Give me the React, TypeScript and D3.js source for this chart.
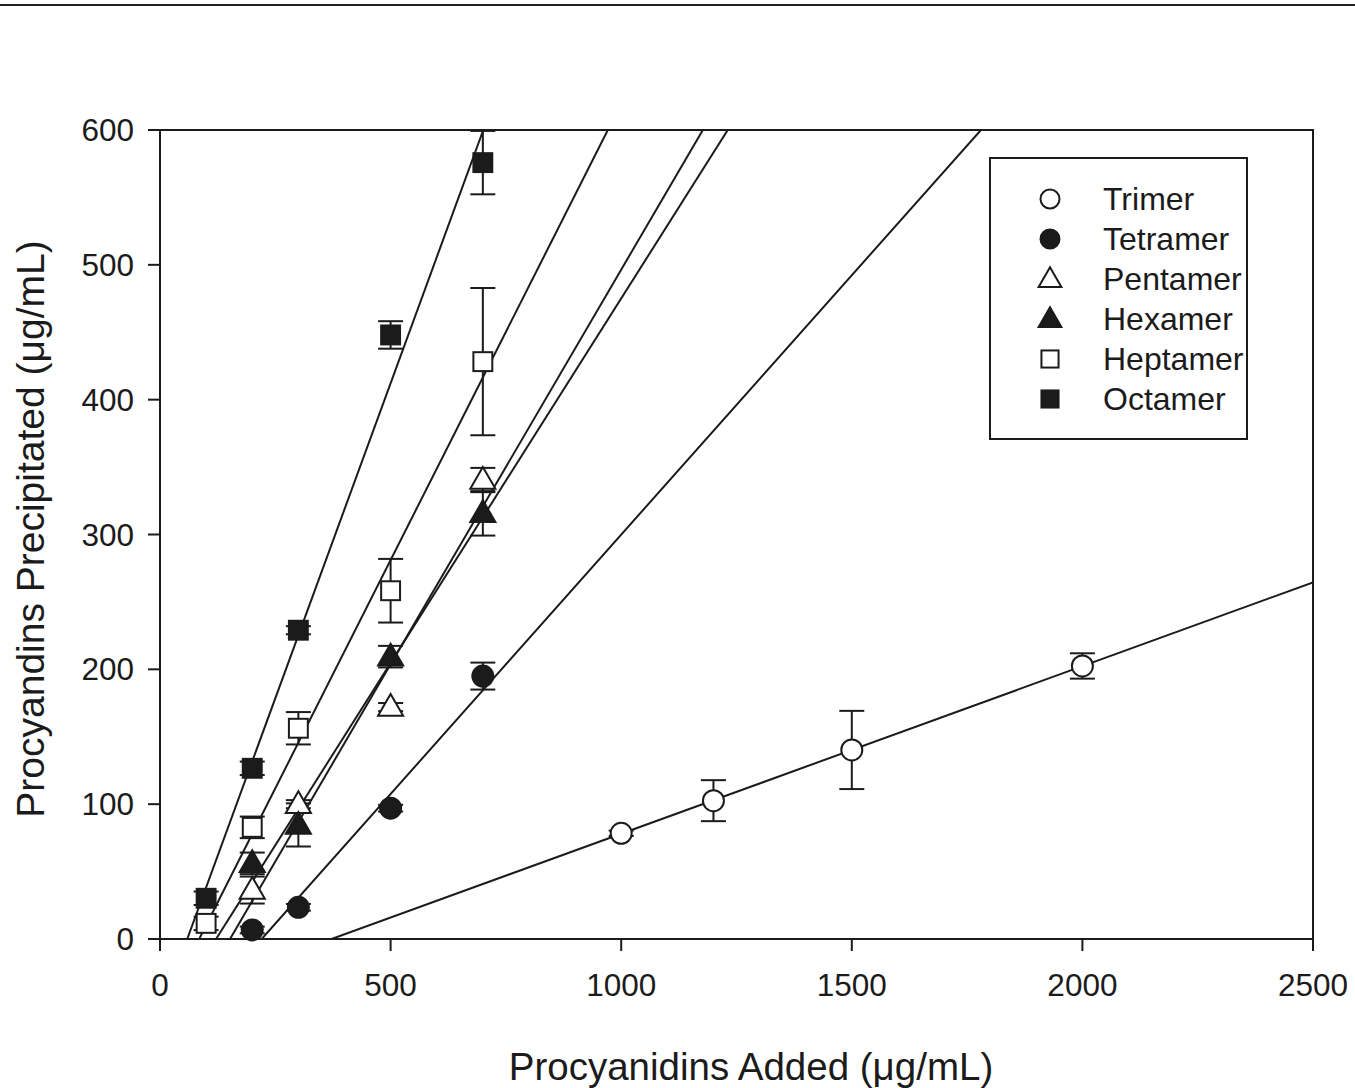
import React from "react";
import * as d3 from "d3";

// ---- data ----
const seriesNames = ["Trimer", "Tetramer", "Pentamer", "Hexamer", "Heptamer", "Octamer"];
const seriesShapes = ["circle", "circle", "triangle", "triangle", "square", "square"];
const seriesFilled = [false, true, false, true, false, true];

const trimerX = [1000, 1200, 1500, 2000];
const trimerY = [78.4, 102.6, 140.2, 202.5];
const trimerErr = [2, 15.2, 29, 9.4];

const tetramerX = [200, 300, 500, 700];
const tetramerY = [6.7, 23.5, 97, 195];
const tetramerErr = [2.5, 2.5, 2.5, 10];

const pentamerX = [200, 300, 500, 700];
const pentamerY = [36.3, 100, 172, 340.4];
const pentamerErr = [10, 3, 3, 9];

const hexamerX = [200, 300, 500, 700];
const hexamerY = [56.1, 84.6, 209.4, 315.7];
const hexamerErr = [8, 16, 8, 16.5];

const heptamerX = [100, 200, 300, 500, 700];
const heptamerY = [11.6, 82.8, 156.3, 258.3, 428.2];
const heptamerErr = [5, 8, 12, 23.6, 54.6];

const octamerX = [100, 200, 300, 500, 700];
const octamerY = [30.2, 126.6, 229, 448, 575.8];
const octamerErr = [5, 5, 3, 10.2, 23.5];

// fitted lines: start (x at y=0) and end point
const fitStartX = [372, 220.5, 151.8, 121.5, 85, 59];
const fitEndX = [2500, 1780, 1177, 1231, 971, 701];
const fitEndY = [264.5, 600, 600, 600, 600, 600];

const xTicks = [0, 500, 1000, 1500, 2000, 2500];
const yTicks = [0, 100, 200, 300, 400, 500, 600];

const seriesX = [trimerX, tetramerX, pentamerX, hexamerX, heptamerX, octamerX];
const seriesY = [trimerY, tetramerY, pentamerY, hexamerY, heptamerY, octamerY];
const seriesErr = [trimerErr, tetramerErr, pentamerErr, hexamerErr, heptamerErr, octamerErr];

const INK = "#1b1b1b";
const FONT = "'Liberation Sans', Arial, Helvetica, sans-serif";

function Marker({ shape, filled, cx, cy, size }: { shape: string; filled: boolean; cx: number; cy: number; size: number }) {
  const fill = filled ? INK : "#fff";
  if (shape === "circle") {
    return <circle cx={cx} cy={cy} r={size / 2} fill={fill} stroke={INK} strokeWidth={2} />;
  }
  if (shape === "square") {
    const s = size * 0.9;
    return <rect x={cx - s / 2} y={cy - s / 2} width={s} height={s} fill={fill} stroke={INK} strokeWidth={2} />;
  }
  const area = size * size * 0.62;
  const p = d3.symbol(d3.symbolTriangle, area)();
  return <path d={p || ""} transform={`translate(${cx},${cy + 1.5})`} fill={fill} stroke={INK} strokeWidth={2} />;
}

export default function App() {
  const x = d3.scaleLinear().domain([0, 2500]).range([160, 1313]);
  const y = d3.scaleLinear().domain([0, 600]).range([939, 130]);
  const capHalf = 12.5;

  return (
    <svg width={1355} height={1088} style={{ position: "absolute", left: 0, top: 0, background: "#fff" }} fontFamily={FONT}>
      <rect x={0} y={0} width={1355} height={1088} fill="#fff" />
      <line x1={0} x2={1355} y1={5} y2={5} stroke="#222" strokeWidth={2} />

      <defs>
        <clipPath id="plotClip">
          <rect x={x(0)} y={y(600)} width={x(2500) - x(0)} height={y(0) - y(600)} />
        </clipPath>
      </defs>

      {/* fit lines */}
      <g clipPath="url(#plotClip)">
        {seriesNames.map((n, i) => (
          <line key={n} x1={x(fitStartX[i])} y1={y(0)} x2={x(fitEndX[i])} y2={y(fitEndY[i])} stroke={INK} strokeWidth={2} />
        ))}
      </g>

      {/* error bars */}
      {seriesNames.map((n, i) => (
        <g key={n + "err"} stroke={INK} strokeWidth={2}>
          {seriesX[i].map((xv, j) => {
            const cx = x(xv);
            const top = y(seriesY[i][j] + seriesErr[i][j]);
            const bot = y(seriesY[i][j] - seriesErr[i][j]);
            return (
              <g key={j}>
                <line x1={cx} x2={cx} y1={top} y2={bot} />
                <line x1={cx - capHalf} x2={cx + capHalf} y1={top} y2={top} />
                <line x1={cx - capHalf} x2={cx + capHalf} y1={bot} y2={bot} />
              </g>
            );
          })}
        </g>
      ))}

      {/* markers */}
      {seriesNames.map((n, i) => (
        <g key={n + "mk"}>
          {seriesX[i].map((xv, j) => (
            <Marker key={j} shape={seriesShapes[i]} filled={seriesFilled[i]} cx={x(xv)} cy={y(seriesY[i][j])} size={21} />
          ))}
        </g>
      ))}

      {/* frame */}
      <rect x={x(0)} y={y(600)} width={x(2500) - x(0)} height={y(0) - y(600)} fill="none" stroke={INK} strokeWidth={2} />

      {/* x axis ticks */}
      {xTicks.map((t) => (
        <g key={"xt" + t}>
          <line x1={x(t)} x2={x(t)} y1={y(0)} y2={y(0) + 12} stroke={INK} strokeWidth={2} />
          <text x={x(t)} y={996} textAnchor="middle" fontSize={31.5} fill={INK}>{t}</text>
        </g>
      ))}
      {/* y axis ticks */}
      {yTicks.map((t) => (
        <g key={"yt" + t}>
          <line x1={x(0) - 12} x2={x(0)} y1={y(t)} y2={y(t)} stroke={INK} strokeWidth={2} />
          <text x={134} y={y(t) + 11} textAnchor="end" fontSize={31.5} fill={INK}>{t}</text>
        </g>
      ))}

      {/* axis titles */}
      <text x={751} y={1080} textAnchor="middle" fontSize={38.5} fill={INK}>Procyanidins Added (μg/mL)</text>
      <text transform={`translate(44,529) rotate(-90)`} textAnchor="middle" fontSize={39} fill={INK}>Procyandins Precipitated (μg/mL)</text>

      {/* legend */}
      <rect x={990} y={158} width={257} height={281} fill="#fff" stroke={INK} strokeWidth={2} />
      {seriesNames.map((n, i) => {
        const ly = 199 + i * 40;
        return (
          <g key={n + "lg"}>
            <Marker shape={seriesShapes[i]} filled={seriesFilled[i]} cx={1050} cy={ly} size={19} />
            <text x={1103} y={ly + 11} fontSize={32} fill={INK}>{n}</text>
          </g>
        );
      })}
    </svg>
  );
}
